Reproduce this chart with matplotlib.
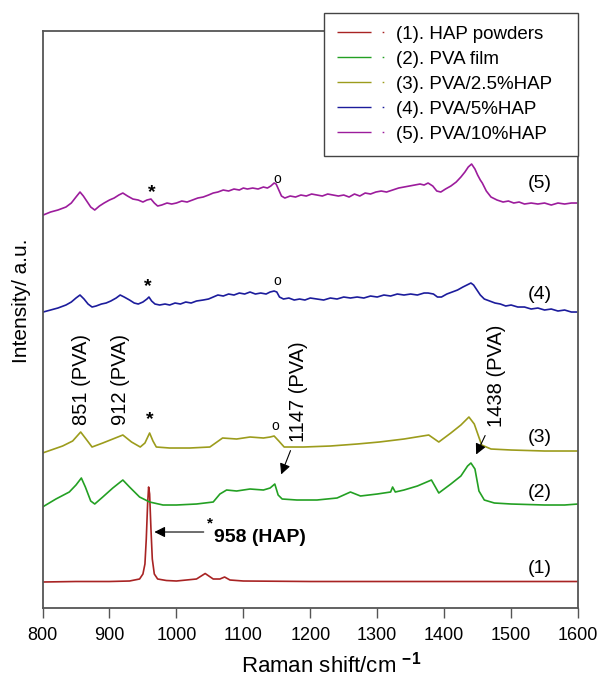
import matplotlib.pyplot as plt
from matplotlib.lines import Line2D

plt.rcParams['font.family'] = ['Liberation Sans', 'DejaVu Sans']
plt.rcParams['mathtext.fontset'] = 'custom'
plt.rcParams['mathtext.rm'] = 'Liberation Sans'
plt.rcParams['mathtext.bf'] = 'Liberation Sans:bold'

# Raman spectra (offset intensity, a.u.)
w1 = [800, 850, 900, 930, 945, 950, 953, 955, 957, 958.5, 960, 962, 964, 967, 972,
      985, 1000, 1030, 1043, 1055, 1065, 1072, 1080, 1100, 1200, 1300, 1400, 1500, 1600]
i1 = [27, 27.5, 27.5, 28, 30, 35, 45, 70, 105, 122, 115, 80, 50, 35, 30,
      28.5, 28, 30, 35.5, 30, 30, 32, 29, 28, 27.5, 27.5, 27.5, 27.5, 27.5]

w2 = [800, 820, 840, 850, 858, 864, 872, 878, 890, 905, 920, 930, 945, 960, 980,
      1000, 1030, 1055, 1065, 1075, 1090, 1110, 1130, 1140, 1147, 1152, 1158, 1180,
      1210, 1240, 1260, 1275, 1300, 1320, 1323, 1327, 1340, 1360, 1381, 1392, 1410,
      1425, 1435, 1440, 1446, 1452, 1460, 1475, 1500, 1550, 1580, 1600]
i2 = [102, 110, 117, 124, 131, 122, 108, 105, 112, 121, 129, 122, 112, 107, 104,
      104, 105, 107, 115, 119, 118, 120, 119, 121, 125, 114, 110, 109,
      109, 111, 117, 113, 115, 117, 122, 117, 119, 123, 129, 116, 125,
      133, 143, 146, 140, 118, 109, 106, 105, 104, 104, 105]

w3 = [800, 830, 845, 857, 865, 874, 890, 905, 920, 933, 946, 953, 960, 965, 970,
      990, 1020, 1050, 1069, 1090, 1110, 1130, 1140, 1146, 1153, 1161, 1190, 1230,
      1270, 1303, 1340, 1377, 1392, 1410, 1425, 1437, 1445, 1456, 1470, 1500, 1550, 1600]
i3 = [156, 163, 168, 177, 170, 162, 166, 170, 174, 167, 162, 166, 176, 168, 162,
      161, 161, 162, 171, 170, 172, 171, 172, 173, 168, 162, 162, 163,
      165, 167, 170, 174, 167, 176, 184, 192, 185, 164, 160, 159, 158, 158]

w4 = [801, 812, 823, 835, 843, 850, 856, 862, 868, 874, 880, 888, 895, 902, 910,
      916, 922, 930, 937, 943, 950, 956, 959, 963, 968, 975, 983, 990, 998, 1006,
      1014, 1022, 1030, 1040, 1048, 1055, 1062, 1070, 1078, 1086, 1094, 1102, 1110,
      1118, 1126, 1134, 1140, 1146, 1150, 1154, 1160, 1168, 1176, 1184, 1192, 1200,
      1210, 1220, 1230, 1240, 1250, 1260, 1270, 1280, 1290, 1300, 1310, 1320, 1330,
      1340, 1350, 1360, 1370, 1376, 1384, 1390, 1396, 1404, 1412, 1420, 1428, 1434,
      1440, 1444, 1449, 1454, 1460, 1468, 1476, 1484, 1492, 1500, 1510, 1520, 1530,
      1540, 1550, 1560, 1570, 1580, 1590, 1598]
i4 = [297, 299, 301, 304, 307, 311, 314, 310, 305, 302, 303, 305, 306, 308, 311,
      314, 312, 309, 306, 305, 307, 310, 312, 308, 305, 304, 305, 304, 306, 305,
      307, 306, 308, 309, 310, 312, 314, 313, 315, 314, 316, 315, 317,
      315, 316, 315, 317, 318, 317, 312, 310, 311, 309, 310, 309, 311,
      310, 309, 311, 310, 312, 311, 312, 311, 313, 312, 314, 313, 315,
      314, 315, 314, 316, 316, 315, 312, 312, 315, 317, 319, 322, 324,
      326, 324, 319, 314, 310, 308, 306, 305, 303, 304, 302, 302, 300,
      301, 299, 300, 298, 299, 297, 297]

w5 = [801, 812, 823, 835, 843, 850, 856, 861, 866, 872, 878, 885, 892, 900, 907,
      914, 920, 927, 935, 943, 950, 956, 962, 967, 972, 978, 986, 993, 1000, 1008,
      1016, 1024, 1032, 1040, 1048, 1055, 1062, 1070, 1078, 1086, 1094, 1100, 1106,
      1114, 1122, 1130, 1136, 1141, 1146, 1149, 1153, 1157, 1162, 1170, 1178, 1186,
      1194, 1202, 1210, 1218, 1226, 1234, 1242, 1250, 1258, 1266, 1274, 1282, 1290,
      1298, 1306, 1314, 1323, 1332, 1340, 1348, 1356, 1364, 1370, 1376, 1383, 1389,
      1395, 1402, 1410, 1418, 1425, 1431, 1436, 1441, 1446, 1450, 1454, 1457, 1463,
      1470, 1479, 1488, 1496, 1504, 1512, 1520, 1530, 1540, 1550, 1560, 1570, 1580,
      1590, 1598]
i5 = [394, 397, 399, 402, 406, 412, 417, 413, 408, 402, 399, 403, 406, 409, 411,
      414, 416, 413, 410, 409, 407, 409, 410, 406, 403, 404, 406, 405, 406, 408,
      407, 409, 411, 412, 414, 416, 417, 419, 418, 420, 419, 421, 420,
      421, 420, 422, 421, 423, 426, 425, 419, 413, 411, 413, 412, 414,
      413, 415, 414, 413, 415, 414, 413, 414, 412, 415, 413, 416, 415,
      417, 418, 417, 419, 421, 422, 423, 424, 425, 424, 426, 423, 418,
      417, 420, 423, 427, 432, 437, 442, 445, 440, 434, 429, 426, 418,
      412, 409, 407, 408, 406, 407, 405, 406, 405, 406, 404, 406, 405,
      406, 406]

names = ['(1). HAP powders', '(2). PVA film', '(3). PVA/2.5%HAP',
         '(4). PVA/5%HAP', '(5). PVA/10%HAP']
colors = ['#a82323', '#23a023', '#9c9c1c', '#1c1c9c', '#9c1c9c']

fig = plt.figure(figsize=(5.98, 6.82), dpi=100)
ax = fig.add_axes([0.0711, 0.1085, 0.8955, 0.846])

for w, i, c in zip([w1, w2, w3, w4, w5], [i1, i2, i3, i4, i5], colors):
    ax.plot(w, i, color=c, lw=1.2)

ax.set_xlim(800, 1600)
ax.set_ylim(1, 578)
ax.set_xticks(range(800, 1601, 100))
ax.set_yticks([])
for s in ax.spines.values():
    s.set_color('#555555')
    s.set_linewidth(1.3)
ax.tick_params(axis='x', direction='out', length=7, width=1, color='#555555',
               labelsize=13, pad=7)
ax.set_xlabel(r'Raman shift/cm $^{\mathbf{-1}}$', fontsize=16, labelpad=5, x=0.539)
ax.set_ylabel('Intensity/ a.u.', fontsize=15, labelpad=8, y=0.532)

# peak markers
for x, y in [(963, 416), (958, 322), (960, 189)]:
    ax.text(x, y, '*', ha='center', va='center', fontsize=14, fontweight='bold')
for x, y in [(1151, 430), (1151, 328), (1147, 183)]:
    ax.text(x, y, 'o', ha='center', va='center', fontsize=10)

# peak labels
ax.text(858, 184, '851 (PVA)', rotation=90, ha='center', va='bottom', fontsize=14.5)
ax.text(917, 184, '912 (PVA)', rotation=90, ha='center', va='bottom', fontsize=14.5)
ax.annotate('', xy=(1155, 132), xytext=(1172, 161),
            arrowprops=dict(arrowstyle='-|>', color='black', lw=0.8, mutation_scale=16))
ax.text(1183, 167, '1147 (PVA)', rotation=90, ha='center', va='bottom', fontsize=14.5)
ax.annotate('', xy=(1446, 152), xytext=(1463, 176),
            arrowprops=dict(arrowstyle='-|>', color='black', lw=0.8, mutation_scale=16))
ax.text(1478, 182, '1438 (PVA)', rotation=90, ha='center', va='bottom', fontsize=14.5)
ax.annotate('', xy=(963, 77), xytext=(1045, 77),
            arrowprops=dict(arrowstyle='-|>', color='black', lw=0.8, mutation_scale=16))
ax.text(1050, 86, '*', ha='center', va='center', fontsize=11, fontweight='bold')
ax.text(1056, 72, '958 (HAP)', ha='left', va='center', fontsize=14, fontweight='bold')

for y, lab in zip([41, 117, 172, 315, 426], ['(1)', '(2)', '(3)', '(4)', '(5)']):
    ax.text(1543, y, lab, ha='center', va='center', fontsize=14)

handles = [Line2D([], [], color=c, lw=1, linestyle=(0, (24.5, 8, 1.2, 40)))
           for c in colors]
leg = fig.legend(handles, names, loc='upper left', mode='expand',
                 bbox_to_anchor=(324 / 598, 0.7, 254 / 598, 1 - 12.7 / 682 - 0.7),
                 borderaxespad=0, fontsize=13.5, handlelength=2.5,
                 handletextpad=0.62, labelspacing=0.42, borderpad=0.7,
                 fancybox=False, edgecolor='#444444', framealpha=1)
leg.get_frame().set_linewidth(1.0)

fig.savefig('out.png', dpi=100)
